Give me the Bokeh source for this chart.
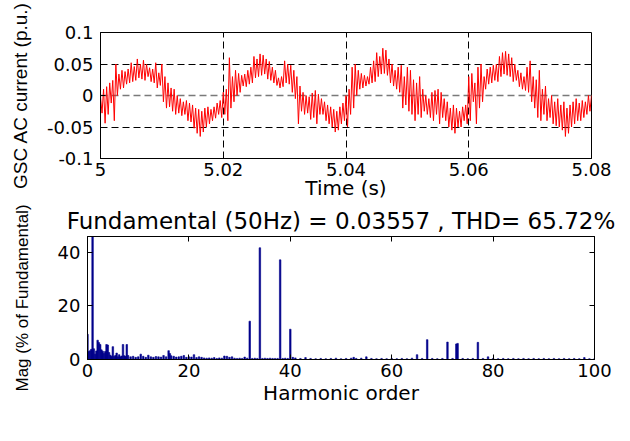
import numpy as np
from bokeh.plotting import figure
from bokeh.models import (Range1d, LinearAxis, FixedTicker, NumeralTickFormatter,
                          Grid, Label)
from bokeh.embed import file_html
from bokeh.resources import INLINE

# ---------------- data ----------------
t_start = 5.0
t_step = 0.00025  # s, sampling step of the trace
current = [
    -0.002, -0.028, 0.010, -0.044, 0.014, -0.030, 0.020, -0.012,
    0.024, -0.040, 0.050, 0.000, 0.034, 0.010, 0.040, 0.012,
    0.038, 0.018, 0.042, 0.020, 0.052, 0.022, 0.046, 0.024,
    0.058, 0.028, 0.050, 0.026, 0.056, 0.024, 0.050, 0.030,
    0.044, 0.022, 0.042, 0.020, 0.052, 0.012, 0.036, 0.016,
    0.050, -0.010, 0.030, -0.020, 0.020, -0.018, 0.012, -0.025,
    0.010, -0.030, 0.000, -0.028, -0.005, -0.032, -0.010, -0.030,
    -0.008, -0.040, -0.012, -0.042, -0.015, -0.052, -0.020, -0.060,
    -0.022, -0.065, -0.025, -0.058, -0.020, -0.050, -0.018, -0.045,
    -0.022, -0.040, -0.018, -0.036, -0.012, -0.030, -0.008, -0.035,
    0.005, -0.030, 0.010, -0.040, 0.060, -0.020, 0.030, -0.010,
    0.040, 0.000, 0.035, 0.005, 0.032, 0.015, 0.034, 0.014,
    0.040, 0.018, 0.045, 0.020, 0.062, 0.028, 0.058, 0.030,
    0.066, 0.032, 0.064, 0.034, 0.058, 0.026, 0.054, 0.024,
    0.045, 0.020, 0.040, 0.016, 0.028, 0.012, 0.030, 0.014,
    0.055, 0.020, 0.050, 0.018, 0.048, 0.005, 0.040, -0.005,
    0.030, -0.045, 0.015, -0.025, 0.005, -0.030, 0.000, -0.028,
    -0.002, -0.038, 0.004, -0.035, 0.008, -0.045, 0.002, -0.030,
    -0.005, -0.030, -0.010, -0.040, -0.015, -0.045, -0.018, -0.050,
    -0.022, -0.058, -0.025, -0.055, -0.018, -0.045, -0.012, -0.040,
    0.000, -0.050, 0.010, -0.030, 0.045, -0.020, 0.050, 0.000,
    0.040, 0.010, 0.035, 0.012, 0.032, 0.015, 0.030, 0.018,
    0.045, 0.020, 0.055, 0.022, 0.068, 0.030, 0.062, 0.034,
    0.075, 0.035, 0.072, 0.032, 0.058, 0.020, 0.050, 0.015,
    0.040, 0.010, 0.045, 0.005, 0.048, -0.020, 0.030, -0.015,
    0.045, -0.025, 0.040, -0.030, 0.025, -0.040, 0.020, -0.030,
    0.030, -0.035, 0.010, -0.025, 0.000, -0.030, -0.005, -0.035,
    0.005, -0.040, 0.008, -0.030, 0.010, -0.045, 0.005, -0.035,
    -0.005, -0.040, -0.010, -0.050, -0.020, -0.055, -0.015, -0.060,
    -0.020, -0.050, -0.025, -0.050, -0.018, -0.040, -0.015, -0.045,
    0.030, -0.040, 0.035, -0.010, 0.020, -0.045, 0.045, -0.020,
    0.050, -0.010, 0.030, 0.010, 0.042, 0.018, 0.045, 0.020,
    0.048, 0.024, 0.050, 0.022, 0.062, 0.030, 0.068, 0.034,
    0.070, 0.032, 0.066, 0.030, 0.060, 0.022, 0.050, 0.024,
    0.040, 0.014, 0.036, 0.010, 0.030, 0.008, 0.045, 0.005,
    0.055, -0.010, 0.030, -0.020, 0.025, -0.035, 0.040, -0.040,
    0.010, -0.030, 0.015, -0.040, -0.005, -0.035, 0.000, -0.045,
    -0.010, -0.048, -0.005, -0.050, -0.015, -0.055, -0.010, -0.065,
    -0.020, -0.060, -0.015, -0.050, -0.010, -0.045, -0.005, -0.040,
    -0.012, -0.040, -0.008, -0.035, -0.010, -0.030, 0.000, -0.025,
    0.000,
]
time_s = t_start + t_step * np.arange(len(current))

harmonic_order = [
    0, 0.25, 0.5, 0.75, 1.0, 1.25, 1.5, 1.75, 2.0, 2.25, 2.5, 2.75,
    3.0, 3.25, 3.5, 3.75, 4.0, 4.25, 4.5, 4.75, 5.0, 5.25, 5.5, 5.75,
    6.0, 6.25, 6.5, 6.75, 7.0, 7.25, 7.5, 7.75, 8.0, 8.5, 9, 9.5,
    10, 10.5, 11, 11.5, 12, 12.5, 13, 13.5, 14, 14.5, 15, 15.5,
    16, 16.25, 16.5, 17, 17.5, 18, 18.5, 19, 19.5, 20, 20.5, 21,
    21.5, 22, 22.5, 23, 23.5, 24, 24.5, 25, 25.5, 26, 26.5, 27,
    27.5, 28, 28.5, 29, 29.5, 30, 30.5, 31, 31.5, 32, 32.5, 33,
    33.5, 34, 34.5, 35, 35.5, 36, 36.5, 37, 37.5, 38, 38.5, 39,
    39.5, 40, 40.5, 41, 42, 43, 44, 45, 46, 47, 48, 49,
    50, 51, 52, 52.5, 53, 54, 55, 56, 57, 58, 59, 60,
    61, 62, 63, 64, 65, 66, 67, 68, 69, 70, 71, 72,
    72.75, 73, 74, 75, 76, 77, 78, 79, 80, 81, 82, 83,
    84, 85, 86, 87, 88, 89, 90, 91, 92, 93, 94, 95,
    96, 97, 98, 99, 100,
]
magnitude = [
    9.4, 3.0, 3.3, 3.8, 100.0, 4.0, 2.0, 3.2, 7.2, 6.3, 5.6, 3.6,
    3.1, 2.2, 3.0, 5.6, 5.4, 2.6, 1.6, 1.2, 4.8, 1.1, 1.5, 2.4,
    1.0, 1.8, 1.0, 1.3, 5.6, 1.4, 1.2, 5.6, 1.5, 1.0, 1.2, 0.8,
    1.0, 2.0, 1.2, 0.8, 1.6, 1.0, 0.8, 1.1, 1.0, 0.9, 1.5, 1.0,
    3.3, 2.2, 1.4, 1.2, 0.9, 1.0, 1.2, 1.5, 0.8, 1.0, 0.9, 1.8,
    0.7, 1.0, 0.8, 0.6, 0.5, 0.6, 0.5, 0.7, 0.4, 0.6, 0.5, 1.3,
    1.2, 0.8, 1.0, 0.5, 0.4, 0.5, 0.4, 0.9, 0.5, 14.3, 0.4, 0.5,
    0.4, 41.7, 0.4, 0.5, 0.4, 0.5, 0.4, 0.4, 0.4, 37.2, 0.4, 0.5,
    0.4, 11.3, 0.8, 0.6, 0.4, 0.7, 0.4, 0.3, 0.4, 0.3, 0.4, 0.5,
    0.3, 0.4, 0.5, 0.8, 0.4, 0.5, 1.0, 0.4, 0.3, 0.4, 0.3, 0.4,
    0.3, 0.4, 0.3, 0.5, 1.8, 0.4, 7.4, 0.4, 0.3, 0.4, 6.5, 0.4,
    5.8, 6.0, 0.4, 0.3, 0.4, 6.4, 0.4, 1.0, 0.4, 0.3, 0.4, 0.3,
    0.4, 0.3, 0.4, 0.3, 0.4, 0.3, 0.4, 0.3, 0.4, 0.3, 0.4, 0.3,
    0.4, 0.3, 0.7, 0.3, 0.3,
]

time_ticks = [5.0, 5.02, 5.04, 5.06, 5.08]
current_ticks = [-0.1, -0.05, 0.0, 0.05, 0.1]
order_ticks = [0, 20, 40, 60, 80, 100]
mag_ticks = [0, 20, 40]
title_text = "Fundamental (50Hz) = 0.03557 , THD= 65.72%"
caption_text = "(a) 5 m/s"

TICK_FONT = "DejaVu Sans"
YLAB_FONT = "Liberation Sans"


def style_axis(ax):
    ax.major_tick_in = 5
    ax.major_tick_out = 0
    ax.minor_tick_line_color = None
    ax.axis_line_color = "black"
    ax.major_tick_line_color = "black"
    ax.major_label_text_font = TICK_FONT
    ax.major_label_text_font_size = "18px"
    ax.major_label_text_color = "black"
    ax.axis_label_text_font_style = "normal"
    ax.axis_label_text_color = "black"


def style_frame(p):
    p.outline_line_color = "black"
    p.outline_line_alpha = 1.0
    p.background_fill_color = "white"
    p.border_fill_color = "white"


# ---------------- top: time trace ----------------
p1 = figure(width=630, height=202, output_backend="svg", toolbar_location=None,
            x_range=Range1d(5.0, 5.08), y_range=Range1d(-0.1, 0.1),
            min_border_left=100, min_border_right=39, min_border_top=32,
            min_border_bottom=42)
p1.line(time_s, current, line_color="red", line_width=1)

xa1 = p1.below[0]
ya1 = p1.left[0]
style_axis(xa1)
style_axis(ya1)
style_frame(p1)
xa1.ticker = FixedTicker(ticks=time_ticks)
ya1.ticker = FixedTicker(ticks=current_ticks)
xa1.formatter = NumeralTickFormatter(format="0.[00]")
ya1.formatter = NumeralTickFormatter(format="0.[00]")
xa1.axis_label = "Time (s)"
ya1.axis_label = "GSC AC current (p.u.)"
xa1.major_label_standoff = 4
xa1.axis_label_standoff = -3
xa1.axis_label_text_font = TICK_FONT
xa1.axis_label_text_font_size = "20px"
ya1.major_label_standoff = 7
ya1.axis_label_standoff = 13
ya1.axis_label_text_font = YLAB_FONT
ya1.axis_label_text_font_size = "19px"

p1.xgrid.ticker = FixedTicker(ticks=[5.02, 5.04, 5.06])
p1.xgrid.grid_line_color = "black"
p1.xgrid.grid_line_dash = "7 4"
p1.ygrid.ticker = FixedTicker(ticks=[-0.05, 0.05])
p1.ygrid.grid_line_color = "black"
p1.ygrid.grid_line_dash = "7 4"
zero_grid = Grid(dimension=1, ticker=FixedTicker(ticks=[0.0]),
                 grid_line_color="#7a7a7a", grid_line_dash="7 4",
                 grid_line_width=1.5)
p1.add_layout(zero_grid)

# ---------------- bottom: harmonic spectrum ----------------
p2 = figure(width=630, height=239, output_backend="svg", toolbar_location=None,
            x_range=Range1d(0, 100), y_range=Range1d(0, 45.9),
            min_border_left=87, min_border_right=36, min_border_top=32,
            min_border_bottom=82, title=title_text)
p2.vbar(x=harmonic_order, top=magnitude, width=0.3, bottom=0,
        fill_color="#00008B", line_color="#00008B", line_width=0.6)
p2.xgrid.visible = False
p2.ygrid.visible = False

xa2 = p2.below[0]
ya2 = p2.left[0]
style_axis(xa2)
style_axis(ya2)
xa2.ticker = FixedTicker(ticks=order_ticks)
ya2.ticker = FixedTicker(ticks=mag_ticks)
xa2.axis_label = "Harmonic order"
ya2.axis_label = "Mag (% of Fundamental)"
xa2.major_label_standoff = 4
xa2.axis_label_standoff = 1
xa2.axis_label_text_font = TICK_FONT
xa2.axis_label_text_font_size = "20px"
ya2.major_label_standoff = 7
ya2.axis_label_standoff = 23
ya2.axis_label_text_font = YLAB_FONT
ya2.axis_label_text_font_size = "17px"

# mirrored tick marks on top and right (MATLAB box style), no labels
top_ax = LinearAxis(ticker=FixedTicker(ticks=order_ticks))
right_ax = LinearAxis(ticker=FixedTicker(ticks=mag_ticks))
for ax in (top_ax, right_ax):
    style_axis(ax)
    ax.major_label_text_font_size = "1px"
    ax.major_label_text_color = None
    ax.major_label_standoff = 0
p2.add_layout(top_ax, "above")
p2.add_layout(right_ax, "right")
style_frame(p2)

p2.title.text_font = TICK_FONT
p2.title.text_font_size = "23px"
p2.title.text_font_style = "normal"
p2.title.align = "center"
p2.title.text_color = "black"
p2.title.standoff = 6

caption = Label(x=175, y=-72, x_units="screen", y_units="screen",
                text=caption_text, text_align="center", text_baseline="top",
                text_font="Liberation Serif", text_font_size="18px",
                text_color="black")
p2.add_layout(caption)

open("out.html", "w").write(file_html([p1, p2], INLINE))
